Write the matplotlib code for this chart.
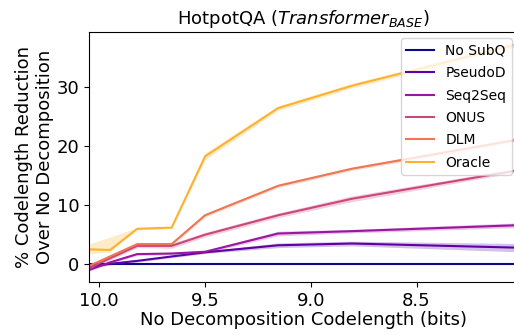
import numpy as np
import matplotlib
matplotlib.use("Agg")
import matplotlib.pyplot as plt

# x: no-decomposition codelength (bits), axis is reversed
codelength = [10.048, 9.948, 9.82, 9.657, 9.499, 9.154, 8.805, 8.03]

labels = ["No SubQ", "PseudoD", "Seq2Seq", "ONUS", "DLM", "Oracle"]

no_subq = [0.0, 0.0, 0.0, 0.0, 0.0, 0.0, 0.0, 0.0]
pseudod = [-0.45, 0.05, 0.55, 1.3, 2.0, 3.2, 3.5, 2.8]
seq2seq = [-1.0, 0.3, 1.7, 1.8, 2.1, 5.2, 5.6, 6.6]
onus = [-0.7, 1.0, 3.1, 3.1, 5.0, 8.3, 11.1, 15.9]
dlm = [-0.3, 1.3, 3.4, 3.4, 8.3, 13.3, 16.2, 21.1]
oracle = [2.5, 2.4, 6.0, 6.2, 18.3, 26.5, 30.3, 37.3]

# band below / above each line
no_subq_lo = [0.05, 0.05, 0.05, 0.05, 0.05, 0.05, 0.05, 0.05]
no_subq_hi = no_subq_lo
pseudod_lo = [0.2, 0.2, 0.2, 0.2, 0.2, 0.4, 0.4, 0.7]
pseudod_hi = pseudod_lo
seq2seq_lo = [0.2, 0.2, 0.2, 0.2, 0.2, 0.4, 0.3, 0.4]
seq2seq_hi = seq2seq_lo
onus_lo = [0.2, 0.3, 0.3, 0.4, 0.4, 0.4, 0.5, 0.3]
onus_hi = onus_lo
dlm_lo = [0.2, 0.3, 0.2, 0.3, 0.3, 0.3, 0.3, 0.3]
dlm_hi = dlm_lo
oracle_lo = [0.8, 0.3, 0.2, 0.2, 0.6, 0.4, 0.4, 0.4]
oracle_hi = [0.9, 2.2, 0.2, 0.2, 0.6, 0.4, 0.4, 0.4]

series = [no_subq, pseudod, seq2seq, onus, dlm, oracle]
lows = [no_subq_lo, pseudod_lo, seq2seq_lo, onus_lo, dlm_lo, oracle_lo]
highs = [no_subq_hi, pseudod_hi, seq2seq_hi, onus_hi, dlm_hi, oracle_hi]
colors = plt.cm.plasma(np.linspace(0, 0.83, len(labels)))

fig = plt.figure(figsize=(5.14, 3.35), dpi=100)
ax = fig.add_axes([0.173, 0.158, 0.835, 0.746])

x = np.array(codelength)
for name, y, lo, hi, c in zip(labels, series, lows, highs, colors):
    y = np.array(y)
    ax.fill_between(x, y - np.array(lo), y + np.array(hi), color=c, alpha=0.25, linewidth=0)
    ax.plot(x, y, color=c, linewidth=1.5, label=name)

ax.set_xlim(10.048, 8.02)
ax.set_ylim(-3.05, 39.4)
ax.set_xticks([10.0, 9.5, 9.0, 8.5])
ax.set_xticklabels(["10.0", "9.5", "9.0", "8.5"])
ax.set_yticks([0, 10, 20, 30])
ax.tick_params(labelsize=13)
ax.spines["right"].set_visible(False)

ax.set_title("HotpotQA ($Transformer_{BASE}$)", fontsize=13)
ax.set_xlabel("No Decomposition Codelength (bits)", fontsize=13, labelpad=1)
ax.set_ylabel("% Codelength Reduction\nOver No Decomposition", fontsize=13, labelpad=2)
ax.legend(loc="upper right", fontsize=10, borderaxespad=0.45, labelspacing=0.6)

fig.savefig("out.png", dpi=100)
